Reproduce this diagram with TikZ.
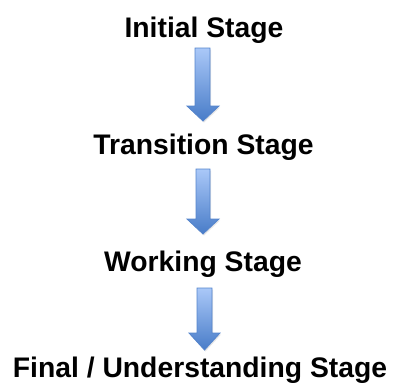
\documentclass[tikz,border=0pt]{standalone}
\usepackage{fontspec}
\setmainfont{Liberation Sans}
\usetikzlibrary{shadows}
\definecolor{arrtop}{RGB}{170,200,248}
\definecolor{arrbot}{RGB}{72,124,200}
\definecolor{arrline}{RGB}{84,132,204}
\begin{document}
\begin{tikzpicture}[x=1pt,y=-1pt,
  stage/.style={font=\fontsize{28.3}{30}\selectfont\bfseries, inner sep=0pt, anchor=base},
  blockarrow/.style={draw=arrline, line width=0.8pt, top color=arrtop, bottom color=arrbot,
    drop shadow={shadow xshift=1pt, shadow yshift=-1.5pt, opacity=0.2}}]
\useasboundingbox (0,0) rectangle (399,391);
\node[stage] (s1) at (204,37) {Initial Stage};
\node[stage] (s2) at (203.5,154) {Transition Stage};
\node[stage] (s3) at (203,271) {Working Stage};
\node[stage] (s4) at (200,377) {Final / Understanding Stage};
\path[blockarrow] (195,48) -- (210,48) -- (210,106) -- (219,106) -- (203,121) -- (187,106) -- (195,106) -- cycle;
\path[blockarrow] (196,169) -- (210,169) -- (210,219) -- (219,219) -- (203,234) -- (187,219) -- (196,219) -- cycle;
\path[blockarrow] (197,288) -- (212,288) -- (212,333) -- (220,333) -- (204.5,350) -- (189,333) -- (197,333) -- cycle;
\end{tikzpicture}
\end{document}
